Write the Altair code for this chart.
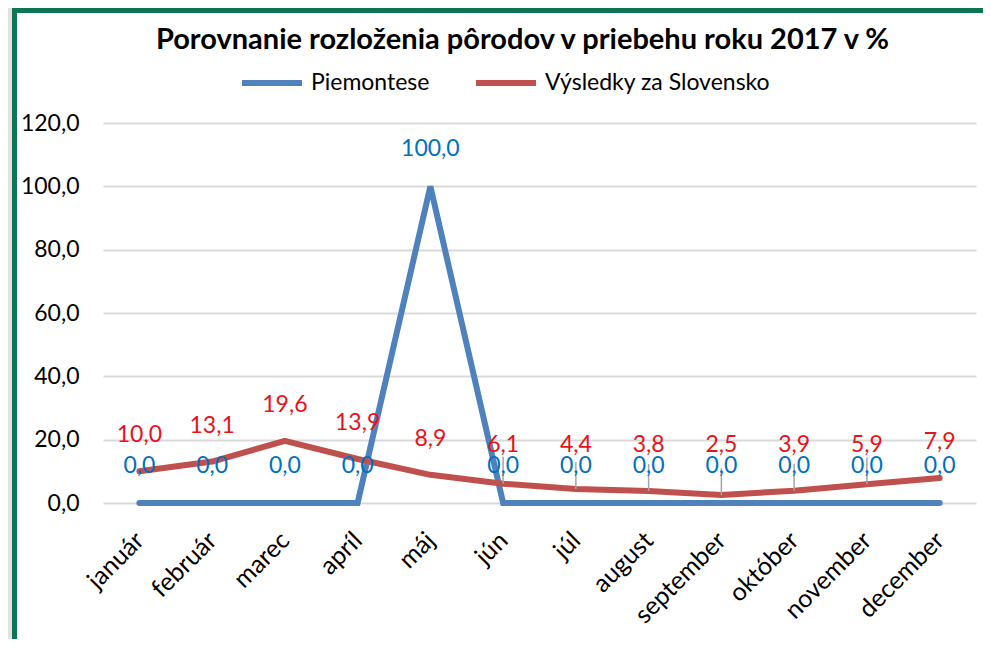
import altair as alt
import pandas as pd

months = ["január", "február", "marec", "apríl", "máj", "jún", "júl",
          "august", "september", "október", "november", "december"]
piemontese = [0.0, 0.0, 0.0, 0.0, 100.0, 0.0, 0.0, 0.0, 0.0, 0.0, 0.0, 0.0]
slovensko = [10.0, 13.1, 19.6, 13.9, 8.9, 6.1, 4.4, 3.8, 2.5, 3.9, 5.9, 7.9]
series_names = ["Piemontese", "Výsledky za Slovensko"]
y_ticks = [0, 20, 40, 60, 80, 100, 120]

title_text = "Porovnanie rozloženia pôrodov v priebehu roku 2017 v %"

rows = []
for m, v in zip(months, piemontese):
    rows.append({"month": m, "value": v, "series": series_names[0]})
for m, v in zip(months, slovensko):
    rows.append({"month": m, "value": v, "series": series_names[1]})
df = pd.DataFrame(rows)

FONT = "Lato"
W, H = 873, 380

x_enc = alt.X("month:N", sort=months,
              scale=alt.Scale(type="point", padding=0.5),
              axis=alt.Axis(title=None, labelAngle=-45, labelAlign="right",
                            labelBaseline="middle", labelPadding=33,
                            labelFontSize=25, labelFont=FONT, labelColor="#000000",
                            ticks=False, domain=False, grid=False))
y_enc = alt.Y("value:Q", scale=alt.Scale(domain=[0, 120], nice=False),
              axis=alt.Axis(title=None, values=y_ticks, labelFontSize=23,
                            labelFont=FONT, labelColor="#000000", labelPadding=24,
                            ticks=False, domain=False, gridColor="#D9D9D9",
                            gridWidth=2,
                            labelExpr="replace(format(datum.value, '.1f'), '.', ',')"))

color_enc = alt.Color("series:N",
                      scale=alt.Scale(domain=series_names, range=["#4F81BD", "#C0504D"]),
                      legend=alt.Legend(title=None, orient="none", direction="horizontal",
                                        legendX=136, legendY=-73,
                                        symbolType="stroke", symbolSize=3600,
                                        symbolStrokeWidth=6, labelFontSize=23,
                                        labelFont=FONT, labelColor="#000000",
                                        labelOffset=6, columnPadding=34, labelLimit=400))

base = alt.Chart(df)
one_row = "datum.month == 'január' && datum.series == 'Piemontese'"

# page texture strip at the far left, outside the green frame
strip = base.mark_rect(fill="#E4E0DC").encode(
    x=alt.value(-95), x2=alt.value(-91),
    y=alt.value(-115), y2=alt.value(H + 300)
).transform_filter(one_row)

# green frame around the chart card
frame = base.mark_rect(fillOpacity=0, stroke="#0B7556", strokeWidth=5).encode(
    x=alt.value(-88.5), x2=alt.value(W + 60),
    y=alt.value(-112.5), y2=alt.value(H + 300)
).transform_filter(one_row)

blue_line = base.transform_filter(f"datum.series == '{series_names[0]}'").mark_line(
    strokeWidth=6, strokeCap="round", strokeJoin="miter", color="#4F81BD"
).encode(x=x_enc, y=y_enc, color=color_enc)

red_line = base.transform_filter(f"datum.series == '{series_names[1]}'").mark_line(
    strokeWidth=6, strokeCap="round", strokeJoin="round", color="#C0504D"
).encode(x=x_enc, y=y_enc, color=color_enc)

leaders = base.transform_filter(
    f"datum.series == '{series_names[1]}' && datum.value < 7"
).transform_calculate(top="datum.value + 8.5").mark_rule(
    color="#A6A6A6", strokeWidth=1.5
).encode(x=alt.X("month:N", sort=months), y="value:Q", y2="top:Q")

blue_labels = base.transform_filter(f"datum.series == '{series_names[0]}'").transform_calculate(
    lab="replace(format(datum.value, '.1f'), '.', ',')"
).mark_text(font=FONT, fontSize=23, color="#0070C0", dy=-37, baseline="middle").encode(
    x=alt.X("month:N", sort=months), y="value:Q", text="lab:N")

red_labels = base.transform_filter(f"datum.series == '{series_names[1]}'").transform_calculate(
    lab="replace(format(datum.value, '.1f'), '.', ',')",
    ly="max(datum.value, 7)"
).mark_text(font=FONT, fontSize=23, color="#E8121A", dy=-36, baseline="middle").encode(
    x=alt.X("month:N", sort=months), y="ly:Q", text="lab:N")

chart = alt.layer(strip, frame, blue_line, red_line, leaders, blue_labels, red_labels).properties(
    width=W, height=H,
    title=alt.TitleParams(title_text, font=FONT, fontSize=29, fontWeight="bold",
                          color="#000000", anchor="middle", dx=-17, offset=0, dy=76,
                          baseline="bottom", frame="group"),
    background="#FFFFFF",
    padding={"left": 95, "top": 115, "right": 7, "bottom": 136},
    autosize=alt.AutoSizeParams(type="none"),
).configure_view(stroke=None)

chart.save("out.html", embed_options={"renderer": "svg", "actions": False})
